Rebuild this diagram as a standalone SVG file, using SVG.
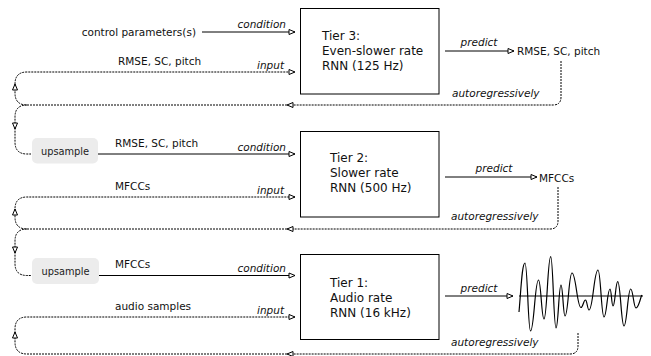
<svg xmlns="http://www.w3.org/2000/svg" width="651" height="356" viewBox="0 0 651 356">
<style>
text{font-family:"DejaVu Sans","Verdana",sans-serif;fill:#111}
.lbl{font-size:10.5px}
.it{font-size:10.5px;font-style:italic}
.box{fill:#fff;stroke:#000;stroke-width:1}
.bt{font-size:12px}
.up{fill:#ececec;stroke:none}
.ut{font-size:9.8px;text-anchor:middle;fill:#222}
.solid{fill:none;stroke:#000;stroke-width:1}
.dot{fill:none;stroke:#000;stroke-width:1;stroke-dasharray:2 1}
.arr{marker-end:url(#ah)}
.wave{fill:none;stroke:#000;stroke-width:1.2}
</style>
<defs>
<marker id="ah" markerUnits="userSpaceOnUse" markerWidth="8" markerHeight="7" refX="6" refY="2.5" orient="auto" overflow="visible">
<path d="M0,0 L6,2.5 L0,5 Z" fill="#fff" stroke="#000" stroke-width="1" stroke-dasharray="none"/>
</marker>
</defs>

<g id="connectors">
<!-- Tier 3 inputs -->
<path class="solid arr" d="M202,32 H295"/>
<path class="dot arr" d="M287,105 H27 Q15,105 15,93 V84 Q15,72 27,72 H295"/>
<path class="solid arr" d="M15,89 V84"/>
<path class="dot" d="M27,105 Q15,105 15,117 V142 Q15,154 27,154 H31"/>
<path class="solid arr" d="M15,124 V129"/>
<!-- Tier 3 outputs -->
<path class="solid arr" d="M445,51 H514"/>
<path class="dot arr" d="M561,61 V97 Q561,105 553,105 H287"/>

<!-- Tier 2 inputs -->
<path class="solid arr" d="M98,154 H295"/>
<path class="dot arr" d="M287,229 H27 Q15,229 15,217 V209 Q15,197 27,197 H295"/>
<path class="solid arr" d="M15,214 V209"/>
<path class="dot" d="M27,229 Q15,229 15,241 V263.5 Q15,275.5 27,275.5 H31"/>
<path class="solid arr" d="M15,248 V253"/>
<!-- Tier 2 outputs -->
<path class="solid arr" d="M445,177 H537"/>
<path class="dot arr" d="M558,187 V221 Q558,229 550,229 H287"/>

<!-- Tier 1 inputs -->
<path class="solid arr" d="M99,275.5 H295"/>
<path class="dot arr" d="M287,354 H27 Q15,354 15,342 V329 Q15,317 27,317 H295"/>
<path class="solid arr" d="M15,337 V332"/>
<!-- Tier 1 outputs -->
<path class="solid arr" d="M445,296 H513"/>
<path class="dot arr" d="M578,333 V346 Q578,354 570,354 H287"/>
</g>

<g id="labels">
<text class="lbl" x="196" y="36" text-anchor="end">control parameters(s)</text>
<text class="it" x="286" y="28" text-anchor="end">condition</text>
<text class="lbl" x="118" y="65">RMSE, SC, pitch</text>
<text class="it" x="284" y="68.5" text-anchor="end">input</text>
<text class="it" x="479" y="46" text-anchor="middle">predict</text>
<text class="it" x="452" y="97">autoregressively</text>

<text class="lbl" x="115" y="147">RMSE, SC, pitch</text>
<text class="it" x="286" y="150.5" text-anchor="end">condition</text>
<text class="lbl" x="115" y="189.5">MFCCs</text>
<text class="it" x="284" y="193.5" text-anchor="end">input</text>
<text class="it" x="494" y="172" text-anchor="middle">predict</text>
<text class="it" x="451" y="220">autoregressively</text>

<text class="lbl" x="115" y="268">MFCCs</text>
<text class="it" x="286" y="272" text-anchor="end">condition</text>
<text class="lbl" x="115" y="310">audio samples</text>
<text class="it" x="284" y="314" text-anchor="end">input</text>
<text class="it" x="479" y="292" text-anchor="middle">predict</text>
<text class="it" x="451" y="346">autoregressively</text>
</g>

<g id="tier3">
<rect class="box" x="300.5" y="8.5" width="138.5" height="85.5"/>
<text class="bt" x="322" y="39.5">Tier 3:</text>
<text class="bt" x="322" y="54.5">Even-slower rate</text>
<text class="bt" x="322" y="69.5">RNN (125 Hz)</text>
</g>
<g id="tier3-out">
<text class="lbl" x="517" y="55">RMSE, SC, pitch</text>
</g>

<g id="tier2">
<rect class="box" x="300.5" y="131.5" width="138.5" height="85.5"/>
<text class="bt" x="330" y="162">Tier 2:</text>
<text class="bt" x="330" y="177">Slower rate</text>
<text class="bt" x="330" y="192">RNN (500 Hz)</text>
</g>
<g id="tier2-out">
<text class="lbl" x="539" y="181.5">MFCCs</text>
</g>
<g id="upsample2">
<rect class="up" x="32" y="138" width="66" height="25.5" rx="5"/>
<text class="ut" x="65" y="154.5">upsample</text>
</g>

<g id="tier1">
<rect class="box" x="300.5" y="254.5" width="138.5" height="85"/>
<text class="bt" x="330" y="287">Tier 1:</text>
<text class="bt" x="330" y="302">Audio rate</text>
<text class="bt" x="330" y="317">RNN (16 kHz)</text>
</g>
<g id="upsample1">
<rect class="up" x="32" y="258" width="67" height="26" rx="5"/>
<text class="ut" x="65.5" y="274.5">upsample</text>
</g>

<g id="waveform">
<path class="solid" d="M519,296 H643"/>
<path class="wave" d="M519,312 C521,290 522,263 525,263 C527.5,263 528,331 530.5,331 C534.1,331 534.9,280 538.5,280 C541,280 541.5,319 544,319 C547,319 547.7,256.7 550.7,256.7 C553.1,256.7 553.6,328 556,328 C558.3,328 558.8,285 561,285 C562.8,285 563.2,316 565,316 C568.2,316 568.8,273 572,273 C576,273 577,307.5 581,307.5 C583,307.5 583.5,300 585.5,300 C587,300 587.5,310 589,310 C593,310 594,270 598,270 C600.7,270 601.3,317 604,317 C606.7,317 607.3,289 610,289 C611.4,289 611.6,306 613,306 C615.1,306 615.6,281.7 617.7,281.7 C620.5,281.7 621.2,326 624,326 C627,326 627.7,289 630.7,289 C633.1,289 633.6,308 636,308 C638.5,308 640,300 641.7,295"/>
</g>
</svg>
